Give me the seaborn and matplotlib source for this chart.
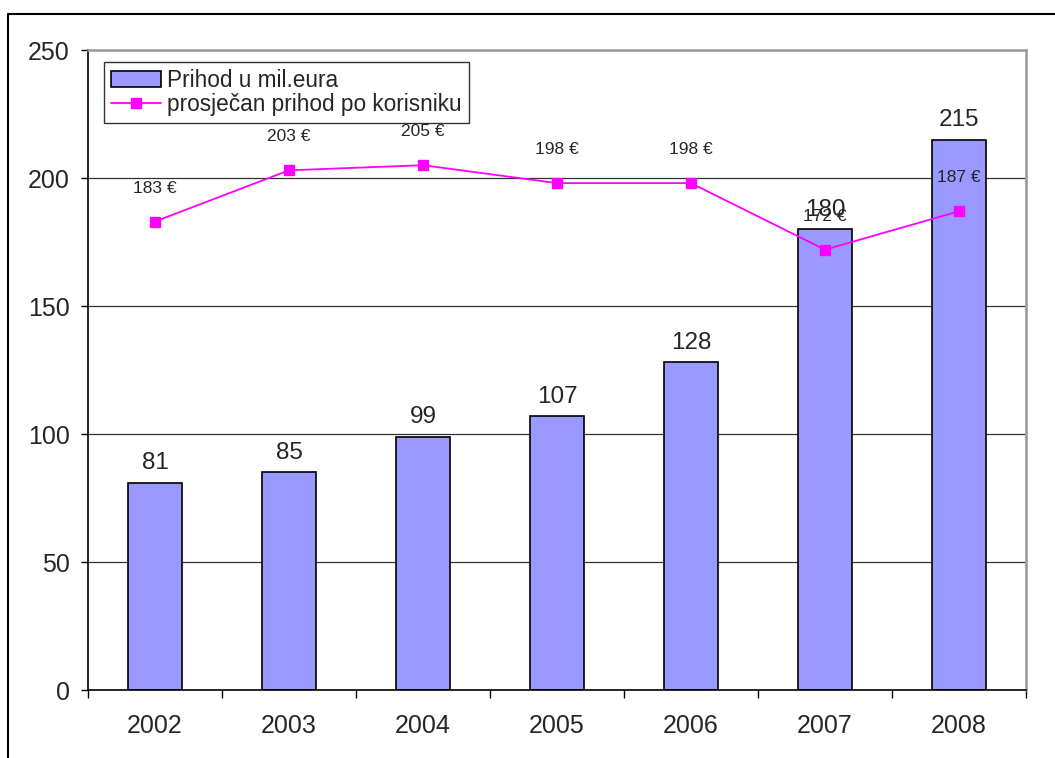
import matplotlib
matplotlib.use("Agg")
import matplotlib.pyplot as plt
import seaborn as sns
from matplotlib.patches import Patch
from matplotlib.lines import Line2D
import numpy as np

years = ["2002", "2003", "2004", "2005", "2006", "2007", "2008"]
revenue = [81, 85, 99, 107, 128, 180, 215]
avg_rev = [183, 203, 205, 198, 198, 172, 187]
avg_labels = ["183 €", "203 €", "205 €", "198 €", "198 €", "172 €", "187 €"]
yticks = [0, 50, 100, 150, 200, 250]
legend_labels = ["Prihod u mil.eura", "prosječan prihod po korisniku"]

sns.set_style("white")
plt.rcParams["font.family"] = ["Liberation Sans", "DejaVu Sans"]

fig = plt.figure(figsize=(10.55, 7.58), dpi=100)
ax = fig.add_axes([88/1055, (758-690)/758, (1026-88)/1055, (690-50)/758])

bar_color = "#9999FF"
line_color = "#FF00FF"

sns.barplot(x=years, y=revenue, color=bar_color, edgecolor="black", linewidth=1.2,
            width=0.4, saturation=1, ax=ax, zorder=2)
sns.pointplot(x=years, y=avg_rev, color=line_color, markers="s", markersize=7,
              linewidth=1.3, ax=ax, zorder=4)

ax.set_ylim(0, 250)
ax.set_xlim(-0.5, 6.5)
ax.set_yticks(yticks)
ax.set_yticklabels([str(v) for v in yticks])
ax.set_xlabel("")
ax.set_ylabel("")

# gridlines
for v in yticks[1:-1]:
    ax.axhline(v, color="#333333", lw=0.9, zorder=1)

# bar labels
for i, v in enumerate(revenue):
    ax.annotate(str(v), (i, v), xytext=(0, 6), textcoords="offset points",
                ha="center", va="bottom", fontsize=17.5, zorder=6)
# line labels
for i, (v, lab) in enumerate(zip(avg_rev, avg_labels)):
    ax.annotate(lab, (i, v), xytext=(0, 24), textcoords="offset points",
                ha="center", va="center", fontsize=12.5, zorder=6)

# spines
for s in ["left", "bottom"]:
    ax.spines[s].set_color("black")
    ax.spines[s].set_linewidth(1.2)
for s in ["top", "right"]:
    ax.spines[s].set_color("#999999")
    ax.spines[s].set_linewidth(1.8)

# ticks
ax.tick_params(axis="y", which="major", direction="out", length=5, width=1,
               labelsize=18, pad=8, left=True, color="black")
ax.tick_params(axis="x", which="major", length=0, labelsize=18, pad=17)
ax.set_xticks(np.arange(-0.5, 7.0, 1.0), minor=True)
ax.tick_params(axis="x", which="minor", direction="out", length=6, width=1,
               bottom=True, color="black")

handles = [Patch(facecolor=bar_color, edgecolor="black", linewidth=1.2),
           Line2D([0], [0], color=line_color, lw=1.3, marker="s", markersize=7)]
leg = ax.legend(handles, legend_labels, loc="upper left",
                bbox_to_anchor=(0.017, 0.981), borderaxespad=0, fontsize=16.3,
                frameon=True, fancybox=False, handlelength=2.2, handletextpad=0.3,
                borderpad=0.3, labelspacing=0.05)
leg.get_frame().set_edgecolor("black")
leg.get_frame().set_linewidth(1.0)
leg.set_zorder(5)

# outer chart border
fig.add_artist(Line2D([8/1055, 8/1055], [0, (758-14)/758], color="black", lw=1.5,
                      transform=fig.transFigure))
fig.add_artist(Line2D([8/1055, 1.0], [(758-14)/758, (758-14)/758], color="black",
                      lw=1.5, transform=fig.transFigure))

fig.savefig("out.png", dpi=100)
